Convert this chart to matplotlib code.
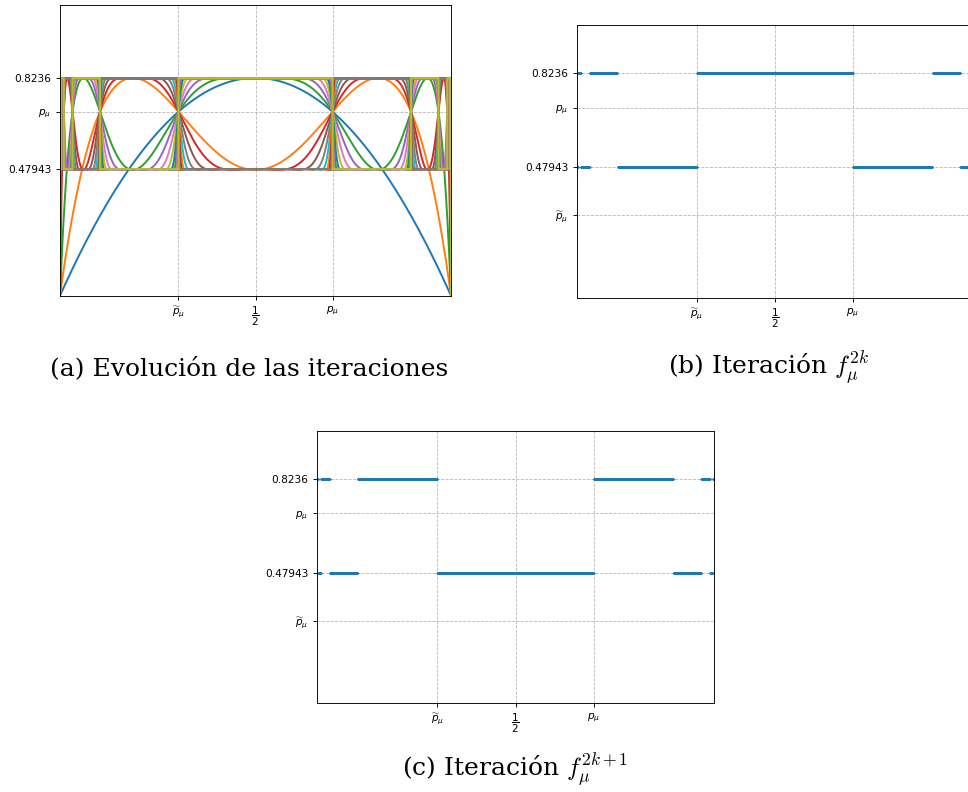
import numpy as np
import matplotlib
matplotlib.use('Agg')
import matplotlib.pyplot as plt

# logistic map f(x) = mu*x*(1-x)
mu = 3.3
orbit = [0.47943, 0.8236]      # attracting 2-cycle
orbit_labels = ['0.47943', '0.8236']
p_mu = 1 - 1 / mu              # unstable fixed point
p_tilde = 1 / mu               # its other preimage
n_curves = 29                  # f, f^2, ..., f^29 in panel (a)
steps_b = 201
steps_c = 200

xt_vals = [p_tilde, 0.5, p_mu]
xt_labels = [r'$\widetilde{p}_\mu$', r'$\dfrac{1}{2}$', r'$p_\mu$']


def f(x):
    return mu * x * (1 - x)


def iterate(x, n):
    y = x.copy()
    for _ in range(n):
        y = f(y)
    return y


def style(ax, yticks, ylabels, ylim):
    ax.set_xlim(0, 1)
    ax.set_ylim(*ylim)
    ax.set_xticks(xt_vals)
    ax.set_xticklabels(xt_labels)
    ax.set_yticks(yticks)
    ax.set_yticklabels(ylabels)
    ax.tick_params(labelsize=7.6, length=2.8, width=0.65)
    ax.grid(True, linestyle='--', linewidth=0.6, color='#b8b8b8')
    for s in ax.spines.values():
        s.set_linewidth(0.65)


W, H = 968, 792
fig = plt.figure(figsize=(W / 100, H / 100), dpi=100)


def box(l, t, r, b):
    return [l / W, 1 - b / H, (r - l) / W, (b - t) / H]


# (a) successive iterates
ax = fig.add_axes(box(60, 5.3, 451, 295.7))
x = np.linspace(0, 1, 20001)
y = x.copy()
for n in range(n_curves):
    y = f(y)
    ax.plot(x, y, linewidth=1.4)
style(ax, [orbit[0], p_mu, orbit[1]], [orbit_labels[0], r'$p_\mu$', orbit_labels[1]], (0, 1.1))

# (b) and (c): limit of even / odd iterates
xs = np.linspace(0, 1, 4001)[1:-1]
yt_vals = [p_tilde, orbit[0], p_mu, orbit[1]]
yt_labels = [r'$\widetilde{p}_\mu$', orbit_labels[0], r'$p_\mu$', orbit_labels[1]]

ax_b = fig.add_axes(box(577, 25, 973, 297.7))
ax_b.plot(xs, iterate(xs, steps_b), '.', markersize=2.6, markeredgewidth=0,
          color='tab:blue')
style(ax_b, yt_vals, yt_labels, (0, 1))

ax_c = fig.add_axes(box(317, 430.7, 714, 703.3))
ax_c.plot(xs, iterate(xs, steps_c), '.', markersize=2.6, markeredgewidth=0,
          color='tab:blue')
style(ax_c, yt_vals, yt_labels, (0, 1))

cap = dict(fontsize=18, family='DejaVu Serif', math_fontfamily='cm',
           ha='center', va='center')
fig.text(249 / W, 1 - 368 / H, '(a) Evolución de las iteraciones', **cap)
fig.text(769 / W, 1 - 368 / H, r'(b) Iteración $f_\mu^{2k}$', **cap)
fig.text(515 / W, 1 - 770 / H, r'(c) Iteración $f_\mu^{2k+1}$', **cap)

fig.savefig('out.png', dpi=100)
